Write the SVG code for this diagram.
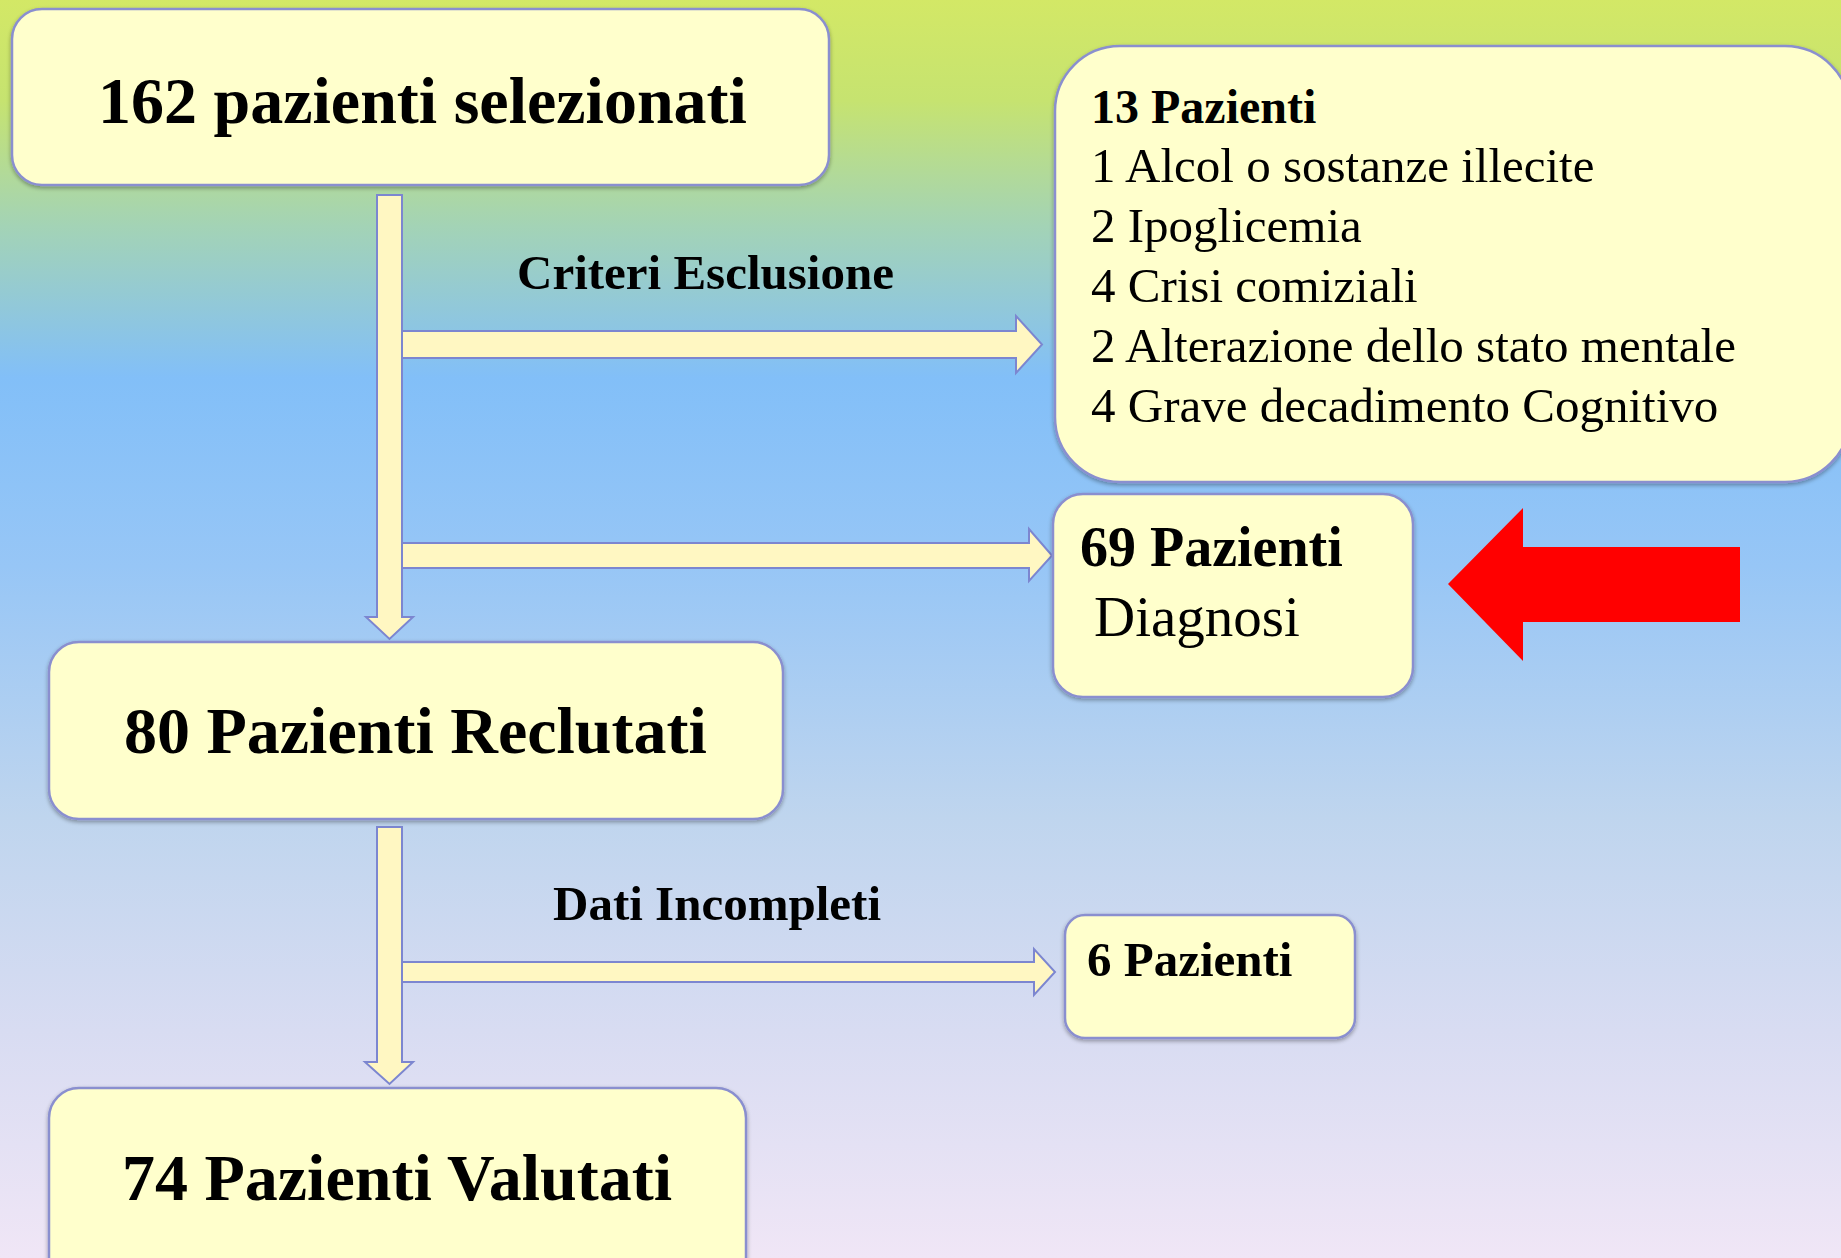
<svg xmlns="http://www.w3.org/2000/svg" width="1841" height="1258" viewBox="0 0 1841 1258">
<defs>
<linearGradient id="bg" x1="0" y1="0" x2="0" y2="1">
<stop offset="0" stop-color="#d3e866"/>
<stop offset="0.08" stop-color="#c6e370"/>
<stop offset="0.18" stop-color="#a3d3b6"/>
<stop offset="0.30" stop-color="#82bff8"/>
<stop offset="0.45" stop-color="#97c6f6"/>
<stop offset="0.65" stop-color="#bfd5ee"/>
<stop offset="0.82" stop-color="#d8dcf2"/>
<stop offset="1" stop-color="#f0e6f6"/>
</linearGradient>
<filter id="sh" x="-5%" y="-5%" width="110%" height="115%">
<feGaussianBlur in="SourceAlpha" stdDeviation="2"/>
<feOffset dx="0" dy="2" result="b"/>
<feComponentTransfer><feFuncA type="linear" slope="0.35"/></feComponentTransfer>
<feMerge><feMergeNode/><feMergeNode in="SourceGraphic"/></feMerge>
</filter>
</defs>
<style>
.box{fill:#ffffcc;stroke:#8a8fcf;stroke-width:2.5;filter:url(#sh)}
.arr{fill:#fff7c2;stroke:#7c86d0;stroke-width:2;stroke-linejoin:miter}
.t{font-family:"Liberation Serif","Times New Roman",serif;fill:#000}
.b{font-weight:bold}
</style>
<rect x="0" y="0" width="1841" height="1258" fill="url(#bg)"/>

<g id="connectors">
<polygon class="arr" points="377,195 402,195 402,617 413,617 389.5,639 366,617 377,617"/>
<polygon class="arr" points="402,331 1016,331 1016,316 1042,344.5 1016,373 1016,358 402,358"/>
<polygon class="arr" points="402,543 1029,543 1029,529 1052,555.5 1029,581 1029,568 402,568"/>
<polygon class="arr" points="377,827 402,827 402,1062 413,1062 389.5,1084 365,1062 377,1062"/>
<polygon class="arr" points="402,962 1034,962 1034,949 1055,972 1034,995 1034,982 402,982"/>
<text class="t b" x="517" y="289" font-size="49">Criteri Esclusione</text>
<text class="t b" x="553" y="920" font-size="49">Dati Incompleti</text>
</g>

<g id="node-selezionati">
<rect class="box" x="12" y="9" width="817" height="176" rx="30"/>
<text class="t b" x="98" y="123" font-size="66">162 pazienti selezionati</text>
</g>

<g id="node-esclusi">
<rect class="box" x="1055" y="46" width="795" height="436" rx="65"/>
<text class="t b" x="1091" y="123" font-size="48">13 Pazienti</text>
<text class="t" x="1091" y="182" font-size="49">1 Alcol o sostanze illecite</text>
<text class="t" x="1091" y="242" font-size="49">2 Ipoglicemia</text>
<text class="t" x="1091" y="302" font-size="49">4 Crisi comiziali</text>
<text class="t" x="1091" y="362" font-size="49">2 Alterazione dello stato mentale</text>
<text class="t" x="1091" y="422" font-size="49">4 Grave decadimento Cognitivo</text>
</g>

<g id="node-diagnosi">
<rect class="box" x="1053" y="494" width="360" height="203" rx="30"/>
<text class="t b" x="1080" y="566" font-size="56">69 Pazienti</text>
<text class="t" x="1094" y="636" font-size="57">Diagnosi</text>
</g>

<g id="node-reclutati">
<rect class="box" x="49" y="642" width="734" height="177" rx="30"/>
<text class="t b" x="124" y="753" font-size="66">80 Pazienti Reclutati</text>
</g>

<g id="node-incompleti">
<rect class="box" x="1065" y="915" width="290" height="123" rx="20"/>
<text class="t b" x="1087" y="976" font-size="49">6 Pazienti</text>
</g>

<g id="node-valutati">
<rect class="box" x="49" y="1088" width="697" height="200" rx="30"/>
<text class="t b" x="122" y="1200" font-size="66">74 Pazienti Valutati</text>
</g>

<g id="red-arrow">
<polygon points="1448,584 1523,508 1523,547 1740,547 1740,622 1523,622 1523,661" fill="#ff0000"/>
</g>
</svg>
